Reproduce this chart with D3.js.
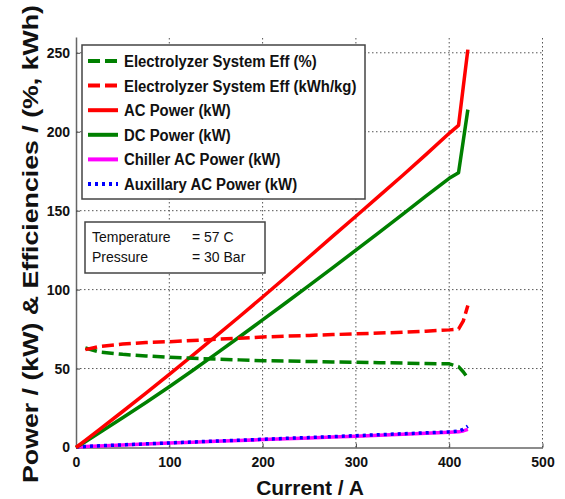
<!DOCTYPE html>
<html>
<head>
<meta charset="utf-8">
<script src="https://cdn.jsdelivr.net/npm/d3@7"></script>
<style>
  body { margin: 0; background: #fff; }
  svg { display: block; font-family: "Liberation Sans", Arial, sans-serif; }
</style>
</head>
<body>
<div id="chart"></div>
<script>
// data
var current = [0, 10, 25, 50, 75, 100, 125, 150, 175, 200, 225, 250, 275, 300, 325, 350, 375, 400, 410, 415, 420];
var effPercent = [null, 63, 60.5, 59, 58, 57.2, 56.5, 56, 55.5, 55, 54.8, 54.5, 54.2, 54, 53.7, 53.5, 53.2, 53, 51.2, 48, 44];
var effKwhKg = [null, 62, 64, 65.5, 66.5, 67, 67.8, 68.5, 69.2, 70, 70.5, 71, 71.5, 72, 72.5, 73, 73.7, 74.5, 75, 80, 90];
var acPower = [0, 4.5, 11.3, 22.8, 34.5, 46.3, 58.3, 70.5, 82.8, 95.3, 108, 120.8, 133.7, 146.5, 159.4, 172.3, 185.5, 199, 204, 228, 252];
var dcPower = [0, 3.7, 9.3, 18.8, 28.5, 38.5, 48.8, 59.3, 70, 80.8, 91.7, 102.7, 113.8, 125, 136.3, 147.7, 159.2, 170.5, 174, 194, 214];
var chillerPower = [0.3, 0.6, 1, 1.6, 2.2, 2.8, 3.3, 3.9, 4.4, 5, 5.5, 6, 6.6, 7.2, 7.8, 8.4, 9, 9.6, 9.9, 10.5, 11.5];
var auxPower = [0.3, 0.6, 1.1, 1.7, 2.3, 2.9, 3.5, 4.1, 4.6, 5.2, 5.8, 6.3, 6.9, 7.5, 8.1, 8.7, 9.3, 9.9, 10.3, 11.5, 13.5];

var xTicks = [0, 100, 200, 300, 400, 500];
var yTicks = [0, 50, 100, 150, 200, 250];

var seriesNames = ['Electrolyzer System Eff (%)', 'Electrolyzer System Eff (kWh/kg)', 'AC Power (kW)',
  'DC Power (kW)', 'Chiller AC Power (kW)', 'Auxillary AC Power (kW)'];
var seriesColors = ['#008000', '#ff0000', '#ff0000', '#008000', '#ff00ff', '#0000ff'];
var seriesDash = ['12,5', '12,5', null, null, null, '3,4'];
var seriesValues = [effPercent, effKwhKg, acPower, dcPower, chillerPower, auxPower];

var infoLabels = ['Temperature', 'Pressure'];
var infoValues = ['= 57 C', '= 30 Bar'];

var width = 565,
    height = 499;

var svg = d3.select('#chart').append('svg')
  .attr('width', width)
  .attr('height', height);

var x = d3.scaleLinear().domain([0, 500]).range([76, 542.5]);
var y = d3.scaleLinear().domain([0, 260]).range([447.5, 37]);

// dotted grid
svg.append('g').selectAll('line')
  .data(xTicks.slice(1))
  .enter().append('line')
  .attr('x1', d => x(d)).attr('x2', d => x(d))
  .attr('y1', y(0)).attr('y2', y(260))
  .attr('stroke', '#555').attr('stroke-width', 1)
  .attr('stroke-dasharray', '1.5,2.5');

svg.append('g').selectAll('line')
  .data(yTicks.slice(1))
  .enter().append('line')
  .attr('x1', x(0)).attr('x2', x(500))
  .attr('y1', d => y(d)).attr('y2', d => y(d))
  .attr('stroke', '#555').attr('stroke-width', 1)
  .attr('stroke-dasharray', '1.5,2.5');

// axes
var xAxis = svg.append('g')
  .attr('transform', 'translate(0,' + y(0) + ')')
  .call(d3.axisBottom(x).tickValues(xTicks).tickSizeInner(-4).tickSizeOuter(0).tickPadding(10));

var yAxis = svg.append('g')
  .attr('transform', 'translate(' + x(0) + ',0)')
  .call(d3.axisLeft(y).tickValues(yTicks).tickSizeInner(-4).tickSizeOuter(0).tickPadding(6));

[xAxis, yAxis].forEach(function(a) {
  a.select('.domain').attr('stroke', '#666').attr('stroke-width', 1.5);
  a.selectAll('.tick line').attr('stroke', '#444');
  a.selectAll('.tick text')
    .attr('fill', '#111')
    .style('font-size', '14px')
    .style('font-weight', 'bold')
    .style('font-family', '"Liberation Sans", Arial, sans-serif');
});

// series
var line = d3.line()
  .defined(d => d[1] != null)
  .x(d => x(d[0]))
  .y(d => y(d[1]));

var drawOrder = [4, 5, 3, 2, 0, 1];
drawOrder.forEach(function(k) {
  var pts = current.map((c, i) => [c, seriesValues[k][i]]);
  svg.append('path')
    .datum(pts)
    .attr('d', line)
    .attr('fill', 'none')
    .attr('stroke', seriesColors[k])
    .attr('stroke-width', 3.5)
    .attr('stroke-linejoin', 'round')
    .attr('stroke-dasharray', seriesDash[k]);
});

// legend
var legend = svg.append('g');
legend.append('rect')
  .attr('x', 82).attr('y', 45)
  .attr('width', 283).attr('height', 154)
  .attr('fill', '#fff')
  .attr('stroke', '#444').attr('stroke-width', 1.5);

var rows = legend.selectAll('g.row')
  .data(seriesNames)
  .enter().append('g')
  .attr('class', 'row')
  .attr('transform', (d, i) => 'translate(0,' + (61 + i * 24.6) + ')');

rows.append('line')
  .attr('x1', 88).attr('x2', 118)
  .attr('stroke', (d, i) => seriesColors[i])
  .attr('stroke-width', 4)
  .attr('stroke-dasharray', (d, i) => seriesDash[i]);

rows.append('text')
  .attr('x', 124).attr('y', 6)
  .style('font-size', '16px')
  .style('font-weight', 'bold')
  .attr('fill', '#111')
  .text(d => d)
  .each(function() {
    // the original lettering is a bit narrower than the font
    var w = this.getComputedTextLength();
    d3.select(this).attr('textLength', w * 0.93).attr('lengthAdjust', 'spacingAndGlyphs');
  });

// info box
var info = svg.append('g');
info.append('rect')
  .attr('x', 85).attr('y', 222)
  .attr('width', 180).attr('height', 51)
  .attr('fill', '#fff')
  .attr('stroke', '#444').attr('stroke-width', 1.5);

info.selectAll('text.lab')
  .data(infoLabels)
  .enter().append('text')
  .attr('class', 'lab')
  .attr('x', 92).attr('y', (d, i) => 241.5 + i * 20)
  .style('font-size', '14px')
  .attr('fill', '#111')
  .text(d => d);

info.selectAll('text.val')
  .data(infoValues)
  .enter().append('text')
  .attr('class', 'val')
  .attr('x', 192).attr('y', (d, i) => 241.5 + i * 20)
  .style('font-size', '14px')
  .attr('fill', '#111')
  .text(d => d);

// axis titles
svg.append('text')
  .attr('x', 310).attr('y', 495)
  .attr('text-anchor', 'middle')
  .style('font-size', '21px')
  .style('font-weight', 'bold')
  .attr('fill', '#111')
  .text('Current / A');

svg.append('text')
  .attr('transform', 'translate(38,244) rotate(-90)')
  .attr('text-anchor', 'middle')
  .style('font-size', '22px')
  .style('font-weight', 'bold')
  .attr('fill', '#111')
  .attr('textLength', 478)
  .attr('lengthAdjust', 'spacingAndGlyphs')
  .text('Power / (kW) & Efficiencies / (%, kWh)');
</script>
</body>
</html>
